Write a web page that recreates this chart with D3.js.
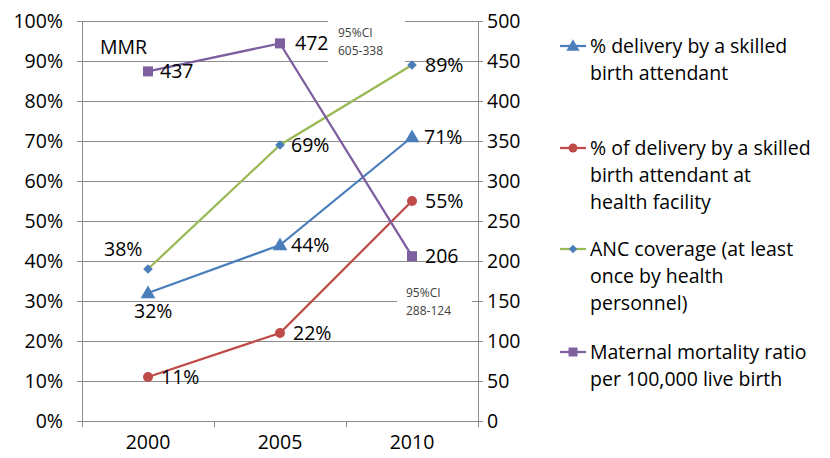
<!DOCTYPE html>
<html><head><meta charset="utf-8">
<script src="https://cdn.jsdelivr.net/npm/d3@7"></script>
<style>body{margin:0;background:#fff}svg{display:block;font-family:"Open Sans",sans-serif}</style>
</head><body><svg id="c" width="830" height="458"></svg>
<script>
const years = ["2000","2005","2010"];
const skilled = [32, 44, 71];
const facility = [11, 22, 55];
const anc = [38, 69, 89];
const mmr = [437, 472, 206];
const leftTicks = [0,10,20,30,40,50,60,70,80,90,100];
const rightTicks = [0,50,100,150,200,250,300,350,400,450,500];
const legendLabels = [
  ["% delivery by a skilled","birth attendant"],
  ["% of delivery by a skilled","birth attendant at","health facility"],
  ["ANC coverage (at least","once by health","personnel)"],
  ["Maternal mortality ratio","per 100,000 live birth"]
];

const svg = d3.select("#c");
const L = 82, R = 478, T = 21, B = 421;
const x = d3.scaleBand().domain(years).range([L, R]);
const yL = d3.scaleLinear().domain([0,100]).range([B, T]);
const yR = d3.scaleLinear().domain([0,500]).range([B, T]);
const cx = d => x(d) + x.bandwidth()/2;
const grid = "#8c8c8c";
const fs = 19.5;

// gridlines
svg.append("g").selectAll("line").data(leftTicks.filter(d=>d>0)).join("line")
  .attr("x1", L).attr("x2", R).attr("y1", d=>yL(d)).attr("y2", d=>yL(d))
  .attr("stroke", grid).attr("stroke-width", 1).attr("shape-rendering","crispEdges");

// axes
const ax = svg.append("g").attr("transform", `translate(${L},0)`)
  .call(d3.axisLeft(yL).tickValues(leftTicks).tickFormat(d=>d+"%").tickSize(5).tickPadding(14));
const ar = svg.append("g").attr("transform", `translate(${R},0)`)
  .call(d3.axisRight(yR).tickValues(rightTicks).tickSize(5).tickPadding(4));
const ab = svg.append("g").attr("transform", `translate(0,${B})`)
  .call(d3.axisBottom(x).tickSize(0).tickPadding(14));
svg.append("g").selectAll("line").data([L, L+x.bandwidth(), L+2*x.bandwidth(), R]).join("line")
  .attr("x1", d=>d).attr("x2", d=>d).attr("y1", B).attr("y2", B+6)
  .attr("stroke", grid).attr("shape-rendering","crispEdges");
[ax, ar, ab].forEach(g => {
  g.selectAll(".domain,.tick line").attr("stroke", grid).attr("shape-rendering","crispEdges");
  g.selectAll("text").attr("font-size", fs).attr("fill", "#000").attr("font-family","Open Sans");
});
ab.select(".domain").attr("d", `M${L},0H${R}`);

// annotations with white background
function note(bx, by, bw, bh, xp, yp, lines, size) {
  svg.append("rect").attr("x", bx).attr("y", by).attr("width", bw).attr("height", bh).attr("fill", "#fff");
  lines.forEach((t,i) => svg.append("text").attr("x", xp).attr("y", yp + i*18).attr("font-size", size)
    .attr("fill", "#404040").text(t));
}
note(328, 18, 77, 46, 338, 37, ["95%CI","605-338"], 12);
note(397, 278, 75, 38, 406, 297, ["95%CI","288-124"], 12);
svg.append("text").attr("x", 100).attr("y", 54).attr("font-size", fs).text("MMR");

// series
const series = [
  {vals: skilled, y: yL, color: "#4a7ebb", mcolor: "#4a7ebb", marker: "tri", fmt: d=>d+"%",
   lab: [[-14, 25],[11, 7],[12, 7]]},
  {vals: facility, y: yL, color: "#be4b48", mcolor: "#be4b48", marker: "circ", fmt: d=>d+"%",
   lab: [[13, 7],[13, 7],[13, 7]]},
  {vals: anc, y: yL, color: "#98b954", mcolor: "#4a7ebb", marker: "dia", fmt: d=>d+"%",
   lab: [[-44, -13],[11, 7],[13, 7]]},
  {vals: mmr, y: yR, color: "#7d5fa0", mcolor: "#7d5fa0", marker: "sq", fmt: d=>d,
   lab: [[12, 7],[15, 7],[13, 7]]}
];
const line = (s) => d3.line().x((d,i)=>cx(years[i])).y(d=>s.y(d));
function drawMarker(g, type, color, px, py, scale) {
  scale = scale || 1;
  const k = Math.sqrt(scale);
  if (type === "tri") g.append("path").attr("d", d3.symbol(d3.symbolTriangle, 95*scale)()).attr("transform", `translate(${px},${py+1})`).attr("fill", color);
  if (type === "circ") g.append("circle").attr("cx", px).attr("cy", py).attr("r", 5*k).attr("fill", color);
  if (type === "dia") g.append("rect").attr("x", -3.4*k).attr("y", -3.4*k).attr("width", 6.8*k).attr("height", 6.8*k)
      .attr("transform", `translate(${px},${py}) rotate(45)`).attr("fill", color);
  if (type === "sq") g.append("rect").attr("x", px-5*k).attr("y", py-5*k).attr("width", 10*k).attr("height", 10*k).attr("fill", color);
}
series.forEach(s => {
  const g = svg.append("g");
  g.append("path").attr("d", line(s)(s.vals)).attr("fill","none").attr("stroke", s.color).attr("stroke-width", 2.25);
  s.vals.forEach((v,i) => drawMarker(g, s.marker, s.mcolor, cx(years[i]), s.y(v)));
});
series.forEach(s => {
  s.vals.forEach((v,i) => {
    svg.append("text").attr("x", cx(years[i]) + s.lab[i][0]).attr("y", s.y(v) + s.lab[i][1])
      .attr("font-size", fs).attr("fill", "#000").text(s.fmt(v));
  });
});

// legend
const legY = [46, 148, 249, 352];
legendLabels.forEach((lines, k) => {
  const s = series[k];
  const g = svg.append("g");
  g.append("line").attr("x1", 560).attr("x2", 586).attr("y1", legY[k]).attr("y2", legY[k]).attr("stroke", s.color).attr("stroke-width", 2.25);
  drawMarker(g, s.marker, s.mcolor, 573, legY[k], 0.8);
  lines.forEach((t,i) => g.append("text").attr("x", 590).attr("y", legY[k] + 7 + i*27).attr("font-size", fs).text(t));
});
</script></body></html>
